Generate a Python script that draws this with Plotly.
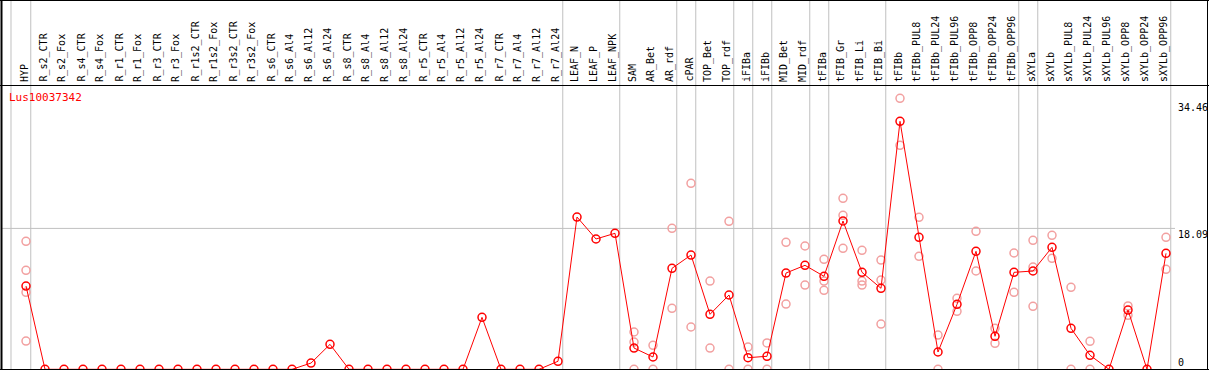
import plotly.graph_objects as go

# ---------------- data ----------------
categories = [
    "HYP", "R_s2_CTR", "R_s2_Fox", "R_s4_CTR", "R_s4_Fox", "R_r1_CTR", "R_r1_Fox",
    "R_r3_CTR", "R_r3_Fox", "R_r1s2_CTR", "R_r1s2_Fox", "R_r3s2_CTR", "R_r3s2_Fox",
    "R_s6_CTR", "R_s6_Al4", "R_s6_Al12", "R_s6_Al24", "R_s8_CTR", "R_s8_Al4",
    "R_s8_Al12", "R_s8_Al24", "R_r5_CTR", "R_r5_Al4", "R_r5_Al12", "R_r5_Al24",
    "R_r7_CTR", "R_r7_Al4", "R_r7_Al12", "R_r7_Al24", "LEAF_N", "LEAF_P", "LEAF_NPK",
    "SAM", "AR_Bet", "AR_rdf", "cPAR", "TOP_Bet", "TOP_rdf", "iFIBa", "iFIBb",
    "MID_Bet", "MID_rdf", "tFIBa", "tFIB_Gr", "tFIB_Li", "tFIB_Bi", "tFIBb",
    "tFIBb_PUL8", "tFIBb_PUL24", "tFIBb_PUL96", "tFIBb_OPP8", "tFIBb_OPP24",
    "tFIBb_OPP96", "sXYLa", "sXYLb", "sXYLb_PUL8", "sXYLb_PUL24", "sXYLb_PUL96",
    "sXYLb_OPP8", "sXYLb_OPP24", "sXYLb_OPP96",
]

groups = (
    ["HYP"] + ["R"] * 28 + ["LEAF"] * 3 + ["AR"] * 3 + ["cPAR"] + ["TOP"] * 2 +
    ["iFIBa"] + ["iFIBb"] + ["MID"] * 2 + ["tFIBa"] + ["tFIB"] * 3 + ["tFIBb"] * 7 +
    ["sXYLa"] + ["sXYLb"] * 7
)

means = [
    10.69, 0, 0, 0, 0, 0, 0, 0, 0, 0, 0, 0, 0, 0, 0, 0.8, 3.2, 0, 0, 0, 0, 0, 0, 0,
    6.67, 0, 0, 0, 1.03, 19.55, 16.73, 17.46,
    2.73, 1.58, 12.96, 14.67, 7.06, 9.54, 1.49, 1.67, 12.36, 13.35, 11.94, 19.04,
    12.45, 10.4, 31.84, 16.94, 2.22, 8.34, 15.15, 4.24, 12.45, 12.62, 15.66, 5.26,
    1.8, 0, 7.61, 0, 14.89,
]

replicates = {
    "HYP": [16.43, 12.71, 9.88, 3.63],
    "SAM": [4.79, 3.50, 0],
    "AR_Bet": [3.08, 0],
    "AR_rdf": [18.1, 7.83],
    "cPAR": [23.88, 5.43],
    "TOP_Bet": [11.33, 2.73],
    "TOP_rdf": [19.0, 0],
    "iFIBa": [2.86, 0],
    "iFIBb": [3.38, 0],
    "MID_Bet": [16.3, 8.38],
    "MID_rdf": [15.83, 10.82],
    "tFIBa": [14.12, 11.33, 10.14],
    "tFIB_Gr": [21.95, 19.77, 15.53],
    "tFIB_Li": [15.27, 11.33, 10.82],
    "tFIB_Bi": [14.03, 11.46, 5.81],
    "tFIBb": [34.79, 28.75],
    "tFIBb_PUL8": [19.51, 14.5],
    "tFIBb_PUL24": [4.40, 0],
    "tFIBb_PUL96": [9.11, 7.44],
    "tFIBb_OPP8": [17.71, 12.62],
    "tFIBb_OPP24": [5.26, 3.34],
    "tFIBb_OPP96": [14.93, 9.88],
    "sXYLa": [16.56, 13.13, 8.09],
    "sXYLb": [17.2, 14.25],
    "sXYLb_PUL8": [10.53, 0],
    "sXYLb_PUL24": [3.59, 0],
    "sXYLb_OPP8": [8.13, 6.93],
    "sXYLb_OPP96": [16.94, 12.84],
}

y_ticks = [0, 18.09, 34.46]
gene = "Lus10037342"

# ---------------- figure ----------------
W, H = 1209, 370
FONT = "DejaVu Sans Mono"


def px_x(p):
    return p / W


def px_y(p):
    return (H - p) / H


idx = list(range(len(categories)))
rep_x, rep_y = [], []
for c, vals in replicates.items():
    i = categories.index(c)
    for v in vals:
        rep_x.append(i)
        rep_y.append(v)

fig = go.Figure()
fig.add_trace(go.Scatter(
    x=rep_x, y=rep_y, mode="markers", cliponaxis=False, hoverinfo="skip",
    marker=dict(symbol="circle-open", size=8, color="#F2A0A0",
                line=dict(width=1.5, color="#F2A0A0")),
    showlegend=False,
))
fig.add_trace(go.Scatter(
    x=idx, y=means, mode="lines+markers", cliponaxis=False,
    line=dict(color="#FF0000", width=1),
    marker=dict(symbol="circle-open", size=8, color="#FF0000",
                line=dict(width=1.5, color="#FF0000")),
    text=categories, hovertemplate="%{text}: %{y}<extra></extra>",
    showlegend=False,
))

shapes = []
# group separators
bounds = [-0.79] + [i + 0.25 for i in range(len(categories))
                    if i == len(categories) - 1 or groups[i] != groups[i + 1]]
for b in bounds:
    shapes.append(dict(type="line", xref="x", yref="paper", x0=b, x1=b,
                       y0=px_y(369), y1=1, line=dict(color="#C0C0C0", width=1),
                       layer="below"))
# mid grid line
shapes.append(dict(type="line", xref="paper", yref="y", x0=px_x(1), x1=px_x(1175),
                   y0=y_ticks[1], y1=y_ticks[1], line=dict(color="#C0C0C0", width=1),
                   layer="below"))
# frame
shapes.append(dict(type="line", xref="paper", yref="paper", x0=0, x1=1,
                   y0=px_y(0.5), y1=px_y(0.5), line=dict(color="black", width=1)))
shapes.append(dict(type="line", xref="paper", yref="paper", x0=0, x1=1,
                   y0=px_y(85.5), y1=px_y(85.5), line=dict(color="black", width=1)))
shapes.append(dict(type="line", xref="paper", yref="paper", x0=0, x1=1,
                   y0=px_y(369.5), y1=px_y(369.5), line=dict(color="black", width=1)))
shapes.append(dict(type="line", xref="paper", yref="paper", x0=px_x(1.5), x1=px_x(1.5),
                   y0=0, y1=1, line=dict(color="black", width=2)))
shapes.append(dict(type="line", xref="paper", yref="paper", x0=px_x(1207.5), x1=px_x(1207.5),
                   y0=0, y1=1, line=dict(color="black", width=1)))

annotations = []
for i, c in enumerate(categories):
    annotations.append(dict(
        x=i, xref="x", y=px_y(83), yref="paper", text=c, textangle=-90,
        xanchor="center", yanchor="bottom", showarrow=False, xshift=-2,
        font=dict(family=FONT, size=10, color="black"), borderpad=0,
    ))
annotations.append(dict(
    x=px_x(8), xref="paper", y=px_y(97), yref="paper", text=gene,
    xanchor="left", yanchor="middle", showarrow=False,
    font=dict(family=FONT, size=11, color="#FF0000"), borderpad=0,
))
for t in y_ticks:
    annotations.append(dict(
        x=px_x(1177), xref="paper", y=t, yref="y",
        text=("%g" % t) if t == 0 else "%.2f" % t,
        xanchor="left", yanchor="bottom" if t == 0 else "top", showarrow=False,
        font=dict(family=FONT, size=10, color="black"), borderpad=0,
    ))

fig.update_layout(
    width=W, height=H, margin=dict(l=0, r=0, t=0, b=0),
    paper_bgcolor="white", plot_bgcolor="white",
    xaxis=dict(range=[-26 / 19, (W - 26) / 19], visible=False, domain=[0, 1]),
    yaxis=dict(range=[-0.09, 36.5], visible=False, domain=[0, px_y(85)]),
    shapes=shapes, annotations=annotations, showlegend=False,
)

fig.write_html(
    "out.html",
    config={"displayModeBar": False},
    post_script="document.body.style.margin='0';document.body.style.overflow='hidden';",
)
